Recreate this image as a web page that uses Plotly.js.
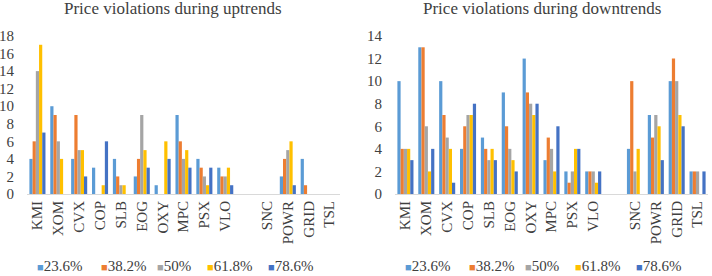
<!DOCTYPE html>
<html>
<head>
<meta charset="utf-8">
<script src="https://cdn.plot.ly/plotly-3.0.1.min.js"></script>
<style>html,body{margin:0;padding:0;background:#fff;}#chart{width:712px;height:276px;}</style>
</head>
<body>
<div id="chart"></div>
<script>
const categories = ["KMI","XOM","CVX","COP","SLB","EOG","OXY","MPC","PSX","VLO"," ","SNC","POWR","GRID","TSL"];
const seriesNames = ["23.6%","38.2%","50%","61.8%","78.6%"];
const seriesColors = ["#5B9BD5","#ED7D31","#A5A5A5","#FFC000","#4472C4"];
const titles = ["Price violations during uptrends","Price violations during downtrends"];

// Price violations during uptrends
const up236 = [4,10,4,3,4,2,1,9,4,3,null,null,2,4,null];
const up382 = [6,9,9,null,2,4,null,6,3,2,null,null,4,1,null];
const up50  = [14,6,5,null,1,9,null,4,2,2,null,null,5,null,null];
const up618 = [17,4,5,1,1,5,6,5,1,3,null,null,6,null,null];
const up786 = [7,null,2,6,null,3,4,3,3,1,null,null,1,null,null];

// Price violations during downtrends
const dn236 = [10,13,10,4,5,9,12,3,2,2,null,4,7,10,2];
const dn382 = [4,13,7,6,4,6,9,5,1,2,null,10,5,12,2];
const dn50  = [4,6,5,7,3,4,8,4,2,2,null,2,7,10,2];
const dn618 = [4,2,4,7,4,3,7,2,4,1,null,4,6,7,null];
const dn786 = [3,4,1,8,3,2,8,6,4,2,null,null,3,6,2];

const upSeries = [up236, up382, up50, up618, up786];
const dnSeries = [dn236, dn382, dn50, dn618, dn786];

const font = "Liberation Serif";
const txtColor = "#404040";
const W = 712, H = 276;

const traces = [];
upSeries.forEach((vals, i) => {
  traces.push({type:"bar", x:categories, y:vals, name:seriesNames[i],
    marker:{color:seriesColors[i]}, xaxis:"x", yaxis:"y", hoverinfo:"y", showlegend:false});
});
dnSeries.forEach((vals, i) => {
  traces.push({type:"bar", x:categories, y:vals, name:seriesNames[i],
    marker:{color:seriesColors[i]}, xaxis:"x2", yaxis:"y2", hoverinfo:"y", showlegend:false});
});

const xCommon = {type:"category", categoryorder:"array", categoryarray:categories,
  tickangle:-90, showline:true, linecolor:"#D9D9D9", linewidth:1, ticks:"",
  showgrid:false, zeroline:false, tickfont:{family:font, size:15, color:txtColor}, fixedrange:true};
const yCommon = {showline:false, showgrid:false, zeroline:false,
  ticks:"outside", ticklen:9, tickcolor:"rgba(0,0,0,0)",
  tickfont:{family:font, size:15, color:txtColor}, fixedrange:true};

// legend entries drawn as text (swatch glyph + label), one row under each chart
const legendLeftPx = [36, 100, 156, 206, 267];
const chartOffsetPx = [0, 368];
const legendYPx = 266;
const annotations = [];
chartOffsetPx.forEach((off) => {
  seriesNames.forEach((nm, i) => {
    annotations.push({
      text:'<span style="color:' + seriesColors[i] + ';font-size:11px">■</span>' + nm,
      xref:"paper", yref:"paper", x:(legendLeftPx[i] + off) / W, y:1 - legendYPx / H,
      xanchor:"left", yanchor:"middle", showarrow:false, borderpad:0,
      font:{family:font, size:15, color:txtColor}
    });
  });
});
annotations.push(
  {text:titles[0], xref:"paper", yref:"paper", x:173 / W, y:1 - 8.5 / H,
   xanchor:"center", yanchor:"middle", showarrow:false, borderpad:0, font:{family:font, size:17, color:txtColor}},
  {text:titles[1], xref:"paper", yref:"paper", x:542 / W, y:1 - 8.5 / H,
   xanchor:"center", yanchor:"middle", showarrow:false, borderpad:0, font:{family:font, size:17, color:txtColor}}
);

const layout = {
  width:W, height:H,
  margin:{l:0, r:0, t:0, b:0},
  paper_bgcolor:"#fff", plot_bgcolor:"#fff",
  font:{family:font},
  barmode:"group", bargap:0.23, bargroupgap:0,
  showlegend:false,
  xaxis:Object.assign({}, xCommon, {domain:[27 / W, 340 / W], anchor:"y"}),
  yaxis:Object.assign({}, yCommon, {domain:[1 - 194 / H, 1 - 36 / H], range:[0,18], dtick:2, anchor:"x"}),
  xaxis2:Object.assign({}, xCommon, {domain:[395 / W, 708 / W], anchor:"y2"}),
  yaxis2:Object.assign({}, yCommon, {domain:[1 - 194 / H, 1 - 36 / H], range:[0,14], dtick:2, anchor:"x2"}),
  annotations:annotations
};

Plotly.newPlot("chart", traces, layout, {displayModeBar:false, staticPlot:true});
</script>
</body>
</html>
